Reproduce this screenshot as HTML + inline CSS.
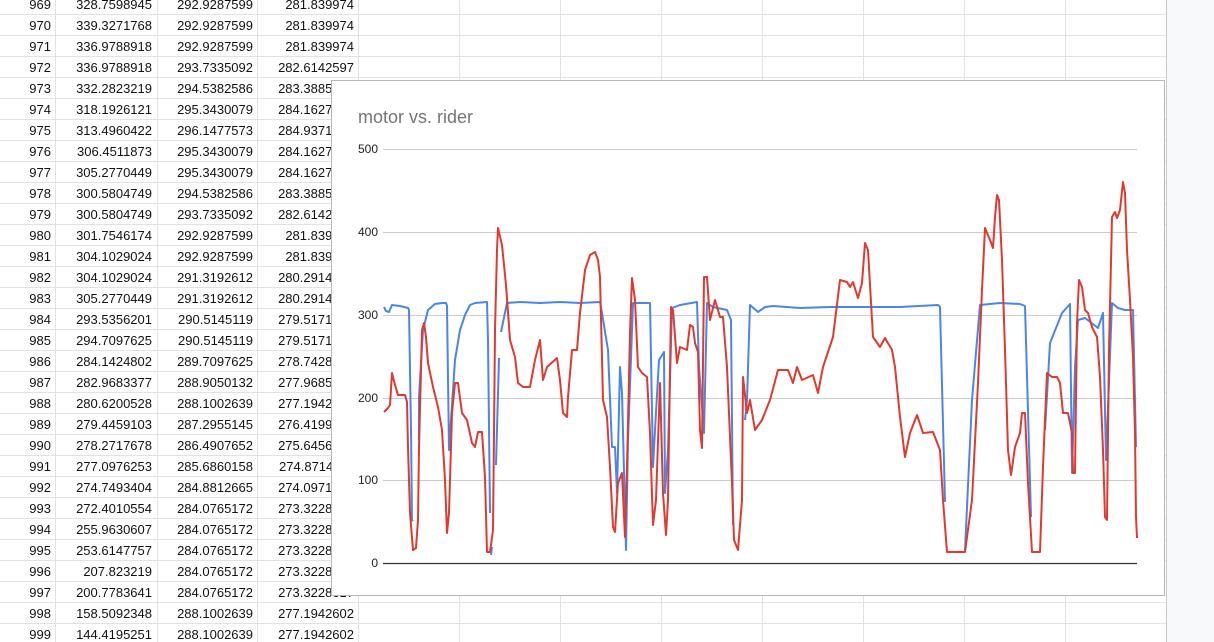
<!DOCTYPE html>
<html><head><meta charset="utf-8"><style>
html,body{margin:0;padding:0;background:#fff;}
svg{display:block;}
text{font-family:"Liberation Sans",Arial,sans-serif;}
</style></head><body>
<svg width="1214" height="642" viewBox="0 0 1214 642" xmlns="http://www.w3.org/2000/svg">
<rect x="0" y="0" width="1214" height="642" fill="#fff"/>
<rect x="1166" y="0" width="48" height="642" fill="#f8f9fa"/>
<g stroke="#e2e2e2" stroke-width="1">
<line x1="0" y1="14.5" x2="1166" y2="14.5"/><line x1="0" y1="35.5" x2="1166" y2="35.5"/><line x1="0" y1="56.5" x2="1166" y2="56.5"/><line x1="0" y1="77.5" x2="1166" y2="77.5"/><line x1="0" y1="98.5" x2="1166" y2="98.5"/><line x1="0" y1="119.5" x2="1166" y2="119.5"/><line x1="0" y1="140.5" x2="1166" y2="140.5"/><line x1="0" y1="161.5" x2="1166" y2="161.5"/><line x1="0" y1="182.5" x2="1166" y2="182.5"/><line x1="0" y1="203.5" x2="1166" y2="203.5"/><line x1="0" y1="224.5" x2="1166" y2="224.5"/><line x1="0" y1="245.5" x2="1166" y2="245.5"/><line x1="0" y1="266.5" x2="1166" y2="266.5"/><line x1="0" y1="287.5" x2="1166" y2="287.5"/><line x1="0" y1="308.5" x2="1166" y2="308.5"/><line x1="0" y1="329.5" x2="1166" y2="329.5"/><line x1="0" y1="350.5" x2="1166" y2="350.5"/><line x1="0" y1="371.5" x2="1166" y2="371.5"/><line x1="0" y1="392.5" x2="1166" y2="392.5"/><line x1="0" y1="413.5" x2="1166" y2="413.5"/><line x1="0" y1="434.5" x2="1166" y2="434.5"/><line x1="0" y1="455.5" x2="1166" y2="455.5"/><line x1="0" y1="476.5" x2="1166" y2="476.5"/><line x1="0" y1="497.5" x2="1166" y2="497.5"/><line x1="0" y1="518.5" x2="1166" y2="518.5"/><line x1="0" y1="539.5" x2="1166" y2="539.5"/><line x1="0" y1="560.5" x2="1166" y2="560.5"/><line x1="0" y1="581.5" x2="1166" y2="581.5"/><line x1="0" y1="602.5" x2="1166" y2="602.5"/><line x1="0" y1="623.5" x2="1166" y2="623.5"/>
<line x1="55.5" y1="0" x2="55.5" y2="642"/><line x1="157.5" y1="0" x2="157.5" y2="642"/><line x1="257.5" y1="0" x2="257.5" y2="642"/><line x1="358.5" y1="0" x2="358.5" y2="642"/><line x1="459.5" y1="0" x2="459.5" y2="642"/><line x1="560.5" y1="0" x2="560.5" y2="642"/><line x1="661.5" y1="0" x2="661.5" y2="642"/><line x1="762.5" y1="0" x2="762.5" y2="642"/><line x1="863.5" y1="0" x2="863.5" y2="642"/><line x1="964.5" y1="0" x2="964.5" y2="642"/><line x1="1065.5" y1="0" x2="1065.5" y2="642"/>
</g>
<line x1="1166.5" y1="0" x2="1166.5" y2="642" stroke="#c8c8c8"/>
<g font-size="13" fill="#111" text-anchor="end">
<g transform="translate(0,9)">
<text x="51" y="0">969</text><text x="152" y="0">328.7598945</text><text x="253" y="0">292.9287599</text><text x="354" y="0">281.839974</text>
<text x="51" y="21">970</text><text x="152" y="21">339.3271768</text><text x="253" y="21">292.9287599</text><text x="354" y="21">281.839974</text>
<text x="51" y="42">971</text><text x="152" y="42">336.9788918</text><text x="253" y="42">292.9287599</text><text x="354" y="42">281.839974</text>
<text x="51" y="63">972</text><text x="152" y="63">336.9788918</text><text x="253" y="63">293.7335092</text><text x="354" y="63">282.6142597</text>
<text x="51" y="84">973</text><text x="152" y="84">332.2823219</text><text x="253" y="84">294.5382586</text><text x="354" y="84">283.3885194</text>
<text x="51" y="105">974</text><text x="152" y="105">318.1926121</text><text x="253" y="105">295.3430079</text><text x="354" y="105">284.1627791</text>
<text x="51" y="126">975</text><text x="152" y="126">313.4960422</text><text x="253" y="126">296.1477573</text><text x="354" y="126">284.9371388</text>
<text x="51" y="147">976</text><text x="152" y="147">306.4511873</text><text x="253" y="147">295.3430079</text><text x="354" y="147">284.1627791</text>
<text x="51" y="168">977</text><text x="152" y="168">305.2770449</text><text x="253" y="168">295.3430079</text><text x="354" y="168">284.1627791</text>
<text x="51" y="189">978</text><text x="152" y="189">300.5804749</text><text x="253" y="189">294.5382586</text><text x="354" y="189">283.3885194</text>
<text x="51" y="210">979</text><text x="152" y="210">300.5804749</text><text x="253" y="210">293.7335092</text><text x="354" y="210">282.6142597</text>
<text x="51" y="231">980</text><text x="152" y="231">301.7546174</text><text x="253" y="231">292.9287599</text><text x="354" y="231">281.839974</text>
<text x="51" y="252">981</text><text x="152" y="252">304.1029024</text><text x="253" y="252">292.9287599</text><text x="354" y="252">281.839974</text>
<text x="51" y="273">982</text><text x="152" y="273">304.1029024</text><text x="253" y="273">291.3192612</text><text x="354" y="273">280.2914546</text>
<text x="51" y="294">983</text><text x="152" y="294">305.2770449</text><text x="253" y="294">291.3192612</text><text x="354" y="294">280.2914546</text>
<text x="51" y="315">984</text><text x="152" y="315">293.5356201</text><text x="253" y="315">290.5145119</text><text x="354" y="315">279.5171949</text>
<text x="51" y="336">985</text><text x="152" y="336">294.7097625</text><text x="253" y="336">290.5145119</text><text x="354" y="336">279.5171949</text>
<text x="51" y="357">986</text><text x="152" y="357">284.1424802</text><text x="253" y="357">289.7097625</text><text x="354" y="357">278.7428352</text>
<text x="51" y="378">987</text><text x="152" y="378">282.9683377</text><text x="253" y="378">288.9050132</text><text x="354" y="378">277.9685755</text>
<text x="51" y="399">988</text><text x="152" y="399">280.6200528</text><text x="253" y="399">288.1002639</text><text x="354" y="399">277.1942602</text>
<text x="51" y="420">989</text><text x="152" y="420">279.4459103</text><text x="253" y="420">287.2955145</text><text x="354" y="420">276.4199005</text>
<text x="51" y="441">990</text><text x="152" y="441">278.2717678</text><text x="253" y="441">286.4907652</text><text x="354" y="441">275.6456408</text>
<text x="51" y="462">991</text><text x="152" y="462">277.0976253</text><text x="253" y="462">285.6860158</text><text x="354" y="462">274.8714811</text>
<text x="51" y="483">992</text><text x="152" y="483">274.7493404</text><text x="253" y="483">284.8812665</text><text x="354" y="483">274.0971214</text>
<text x="51" y="504">993</text><text x="152" y="504">272.4010554</text><text x="253" y="504">284.0765172</text><text x="354" y="504">273.3228617</text>
<text x="51" y="525">994</text><text x="152" y="525">255.9630607</text><text x="253" y="525">284.0765172</text><text x="354" y="525">273.3228617</text>
<text x="51" y="546">995</text><text x="152" y="546">253.6147757</text><text x="253" y="546">284.0765172</text><text x="354" y="546">273.3228617</text>
<text x="51" y="567">996</text><text x="152" y="567">207.823219</text><text x="253" y="567">284.0765172</text><text x="354" y="567">273.3228617</text>
<text x="51" y="588">997</text><text x="152" y="588">200.7783641</text><text x="253" y="588">284.0765172</text><text x="354" y="588">273.3228617</text>
<text x="51" y="609">998</text><text x="152" y="609">158.5092348</text><text x="253" y="609">288.1002639</text><text x="354" y="609">277.1942602</text>
<text x="51" y="630">999</text><text x="152" y="630">144.4195251</text><text x="253" y="630">288.1002639</text><text x="354" y="630">277.1942602</text>
</g></g>

<!-- chart -->
<rect x="331.5" y="80.5" width="833" height="515" fill="#fff" stroke="#b8b8b8"/>
<text x="358" y="123" font-size="18" fill="#757575">motor vs. rider</text>
<g stroke="#cccccc" stroke-width="1">
<line x1="383" y1="149.5" x2="1137" y2="149.5"/><line x1="383" y1="232.5" x2="1137" y2="232.5"/><line x1="383" y1="315.5" x2="1137" y2="315.5"/><line x1="383" y1="398.5" x2="1137" y2="398.5"/><line x1="383" y1="480.5" x2="1137" y2="480.5"/>
</g>
<line x1="383" y1="563.5" x2="1137" y2="563.5" stroke="#333" stroke-width="1.2"/>
<g font-size="12" fill="#222" text-anchor="end">
<text x="378" y="153">500</text><text x="378" y="236">400</text><text x="378" y="319">300</text><text x="378" y="402">200</text><text x="378" y="484">100</text><text x="378" y="567">0</text>
</g>
<g fill="none" stroke="#4a86e8" stroke-width="2" stroke-linejoin="round">
<polyline points="384,307 386,311 389,312 392,305 400,306 408,308 409,310 411,430 412,520 413,521"/>
<polyline points="419,440 419,397 423,330 428,310 435,304 442,303 446,303 447,306 449,450 451,420 455,360 460,330 465,315 470,305 475,303 487,302 488,340 490,513"/>
<polyline points="491,555 492,547"/>
<polyline points="496,465 499,358"/>
<polyline points="501,332 507,303 520,302 540,303 560,302 580,303 600,302 602,313 608,350 612,447 615,447 617,493 620,367 622,393 626,550 628,440 633,303 650,303 653,467 655,430 659,360 664,352 665,493 668,450 672,308 680,305 697,302 699,367 704,433 707,303 713,307 727,310 731,320 733,525"/>
<polyline points="745,420 747,400 750,305 758,312 765,307 773,306 800,308 830,307 860,307 900,307 938,305 940,307 945,502"/>
<polyline points="965,550 972,400 980,305 1000,303 1020,304 1025,306 1031,517"/>
<polyline points="1045,430 1050,343 1062,313 1070,304 1072,473 1075,367 1078,320 1085,318 1098,328 1103,313 1106,460 1112,303 1118,308 1125,310 1133,310 1136,447"/>
</g>
<g fill="none" stroke="#e0392f" stroke-width="2" stroke-linejoin="round">
<polyline points="384,412 388,408 390,405 392,373 395,385 398,395 405,395 407,402 408,447 410,513 413,550 416,548 418,520 419,447 422,330 424,323 426,337 428,363 433,387 438,407 442,430 445,480 447,533 449,513 452,413 455,383 458,383 462,413 467,420 472,443 475,447 478,432 482,432 485,477 487,552 490,552 493,530 494,433 495,330 497,250 498,228 502,245 506,285 510,340 515,357 518,383 523,387 530,387 535,360 540,340 543,380 547,367 557,358 560,380 563,413 567,417 568,397 572,350 577,350 580,313 585,270 590,255 595,252 598,260 600,277 603,400 607,417 610,467 613,527 615,532 618,483 622,473 625,537 627,467 630,333 632,278 635,300 638,367 642,373 647,377 650,433 653,525 656,500 660,383 663,493 666,535 668,500 671,307 673,310 677,363 680,347 687,350 690,325 693,327 695,343 698,352 700,430 702,448 704,277 707,277 710,320 715,300 720,317 723,317 727,367 732,483 734,540 738,550 742,500 743,377 747,413 750,400 755,430 762,420 770,400 778,370 788,370 793,383 797,367 802,380 813,375 818,393 823,367 833,337 840,280 847,282 850,287 853,282 858,298 862,283 865,243 868,250 873,337 880,347 885,338 892,350 895,367 900,417 905,457 910,433 917,415 923,433 933,432 940,450 943,500 947,552 965,552 972,500 978,383 982,290 985,228 990,240 993,248 995,217 997,195 999,200 1002,260 1005,350 1008,450 1011,475 1015,447 1020,433 1022,413 1025,413 1028,483 1032,552 1040,552 1043,467 1047,373 1052,377 1057,377 1060,383 1063,413 1068,413 1072,433 1073,473 1075,473 1077,323 1079,280 1082,287 1085,310 1088,313 1092,327 1097,337 1100,377 1103,450 1105,517 1107,520 1109,350 1112,217 1115,212 1117,218 1120,210 1123,182 1125,193 1127,250 1130,300 1133,357 1135,433 1136,517 1137,538"/>
</g>
</svg>
</body></html>
